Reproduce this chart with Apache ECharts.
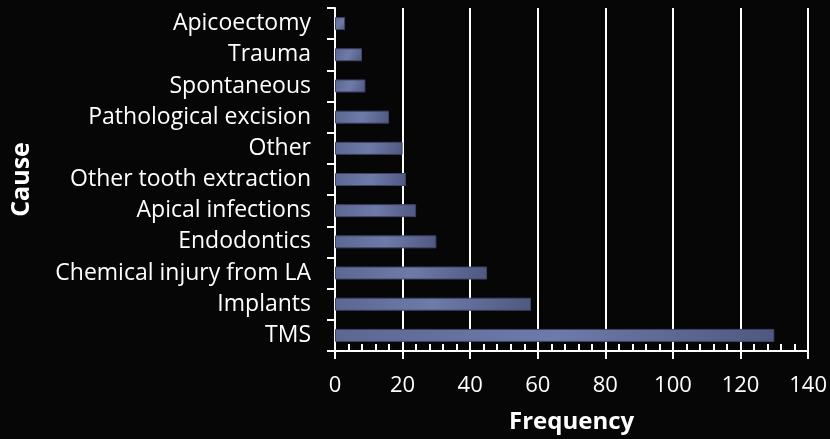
<!DOCTYPE html>
<html>
<head>
<meta charset="utf-8">
<script src="https://cdn.jsdelivr.net/npm/echarts@6/dist/echarts.min.js"></script>
<style>
  html, body { margin: 0; padding: 0; background: #060606; }
  #chart { width: 830px; height: 439px; }
</style>
</head>
<body>
<div id="chart"></div>
<script>
// bottom to top, as drawn on the category axis
const causes = [
  'TMS', 'Implants', 'Chemical injury from LA', 'Endodontics', 'Apical infections',
  'Other tooth extraction', 'Other', 'Pathological excision', 'Spontaneous', 'Trauma', 'Apicoectomy'
]
const frequency = [130, 58, 45, 30, 24, 21, 20, 16, 9, 8, 3]

const fontFamily = '"Open Sans", Lato, sans-serif'

const chart = echarts.init(document.getElementById('chart'))
chart.setOption({
  backgroundColor: '#060606',
  animation: false,
  grid: { left: 335, right: 21, top: 8, bottom: 88 },
  xAxis: [{
    type: 'value',
    min: 0, max: 140, interval: 20,
    name: 'Frequency',
    nameLocation: 'middle', nameGap: 59,
    nameTextStyle: { color: '#ffffff', fontSize: 24, fontWeight: 'bold', fontFamily },
    axisLine: { show: true, lineStyle: { color: '#ffffff', width: 2 } },
    axisTick: { show: true, inside: true, length: 7, lineStyle: { color: '#ffffff', width: 2 } },
    minorTick: { show: true, splitNumber: 5, length: 7, lineStyle: { color: '#ffffff', width: 2 } },
    axisLabel: { color: '#ffffff', fontSize: 22, margin: 24, fontFamily },
    splitLine: { show: true, lineStyle: { color: '#ffffff', width: 2 } }
  }, {
    // outer half of the major ticks
    type: 'value',
    position: 'bottom',
    min: 0, max: 140, interval: 20,
    axisLine: { show: false },
    axisTick: { show: true, length: 8, lineStyle: { color: '#ffffff', width: 2 } },
    axisLabel: { show: false },
    splitLine: { show: false }
  }],
  yAxis: {
    type: 'category',
    data: causes,
    name: 'Cause',
    nameLocation: 'middle', nameGap: 301,
    nameTextStyle: { color: '#ffffff', fontSize: 25, fontWeight: 'bold', fontFamily },
    axisLine: { show: true, lineStyle: { color: '#ffffff', width: 2 } },
    axisTick: { show: true, length: 8, lineStyle: { color: '#ffffff', width: 2 } },
    axisLabel: { color: '#ffffff', fontSize: 23, margin: 24, fontFamily },
    splitLine: { show: false }
  },
  series: [{
    type: 'bar',
    data: frequency,
    barWidth: 13,
    itemStyle: {
      color: new echarts.graphic.LinearGradient(0, 0, 1, 1, [
        { offset: 0, color: '#5c6792' },
        { offset: 0.5, color: '#6e7aa8' },
        { offset: 1, color: '#4f5880' }
      ]),
      borderColor: '#3c4466',
      borderWidth: 1
    }
  }]
})
</script>
</body>
</html>
